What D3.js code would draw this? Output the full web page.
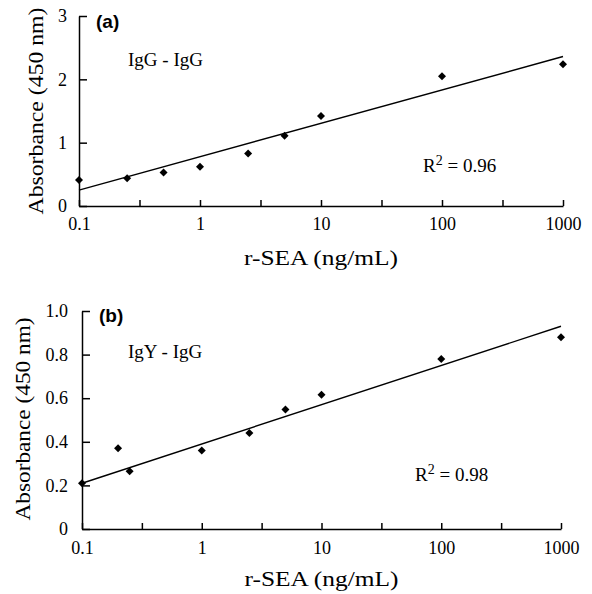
<!DOCTYPE html>
<html>
<head>
<meta charset="utf-8">
<script src="https://cdn.jsdelivr.net/npm/d3@7"></script>
</head>
<body style="margin:0;background:#fff">
<div id="chart"></div>
<script>
// Data
var concA = [0.1, 0.25, 0.5, 1, 2.5, 5, 10, 100, 1000];
var absA = [0.41, 0.44, 0.53, 0.62, 0.83, 1.11, 1.42, 2.05, 2.24];
var concB = [0.1, 0.2, 0.25, 1, 2.5, 5, 10, 100, 1000];
var absB = [0.21, 0.37, 0.265, 0.36, 0.44, 0.548, 0.616, 0.78, 0.88];

// fitted line, absorbance at the two ends of the x range
var fitX = [0.1, 1000];
var fitA = [0.25, 2.36];
var fitB = [0.21, 0.93];

// x ticks: decades are labelled, half decades are bare ticks
var xTicks = [0.1, 0.3162, 1, 3.162, 10, 31.62, 100, 316.2, 1000];
var xTickLabels = ["0.1", "1", "10", "100", "1000"];
var yTicksA = [0, 1, 2, 3];
var yTickLabelsA = ["0", "1", "2", "3"];
var yTicksB = [0, 0.2, 0.4, 0.6, 0.8, 1.0];
var yTickLabelsB = ["0", "0.2", "0.4", "0.6", "0.8", "1.0"];

var serif = "Liberation Serif, Times New Roman, serif";

var svg = d3.select("#chart").append("svg")
  .attr("width", 592)
  .attr("height", 594)
  .attr("font-family", serif)
  .style("background", "#fff");

function styleAxis(s) {
  s.attr("font-family", serif).attr("font-size", 18).attr("fill", "#000");
  s.select(".domain")
    .style("stroke", "#000")
    .style("stroke-width", "1.5px")
    .style("fill", "none");
  s.selectAll(".tick line")
    .style("stroke", "#000")
    .style("stroke-width", "1.5px");
  s.selectAll(".tick text")
    .style("fill", "#000")
    .style("font-family", serif)
    .style("font-size", "18px");
}

function drawPanel(p) {
  var x = d3.scaleLog().domain([0.1, 1000]).range([p.left, p.right]);
  var y = d3.scaleLinear().domain(p.yDomain).range([p.bottom, p.top]);

  // x axis, ticks pointing up into the plot
  svg.append("g")
    .attr("transform", "translate(0," + p.bottom + ")")
    .call(d3.axisBottom(x)
      .tickValues(xTicks)
      .tickSizeInner(-6)
      .tickSizeOuter(0)
      .tickPadding(p.xPad)
      .tickFormat(function(d) {
        var i = [0.1, 1, 10, 100, 1000].indexOf(d);
        return i < 0 ? "" : xTickLabels[i];
      }))
    .call(styleAxis);

  // y axis, ticks pointing right
  svg.append("g")
    .attr("transform", "translate(" + p.left + ",0)")
    .call(d3.axisLeft(y)
      .tickValues(p.yTicks)
      .tickSizeInner(-8)
      .tickSizeOuter(0)
      .tickPadding(p.yPad)
      .tickFormat(function(d, i) { return p.yLabels[i]; }))
    .call(styleAxis);

  // fitted line
  var fitLine = d3.line()
    .x(function(d) { return x(d[0]); })
    .y(function(d) { return y(d[1]); });

  svg.append("path")
    .datum(d3.zip(fitX, p.fit))
    .attr("d", fitLine)
    .style("fill", "none")
    .style("stroke", "#000")
    .style("stroke-width", "1.4px");

  // diamond markers
  svg.append("g").selectAll("path")
    .data(d3.zip(p.conc, p.abs))
    .enter().append("path")
    .attr("d", d3.symbol().type(d3.symbolSquare).size(32))
    .attr("transform", function(d) {
      return "translate(" + x(d[0]) + "," + y(d[1]) + ") rotate(45)";
    })
    .style("fill", "#000");

  // panel letter
  svg.append("text")
    .attr("x", p.left + 17)
    .attr("y", p.letterY)
    .style("font-family", "Liberation Sans, Arial, sans-serif")
    .style("font-weight", "bold")
    .style("font-size", "19px")
    .text(p.letter);

  // antibody pair
  svg.append("text")
    .attr("x", 128)
    .attr("y", p.pairY)
    .style("font-size", "19px")
    .text(p.pair);

  // R squared
  var r2 = svg.append("text")
    .attr("x", p.r2X)
    .attr("y", p.r2Y)
    .style("font-size", "19px");
  r2.append("tspan").text("R");
  r2.append("tspan").attr("dy", -7).style("font-size", "14px").text("2");
  r2.append("tspan").attr("dy", 7).text(" = " + p.r2);

  // axis titles
  svg.append("text")
    .attr("x", (p.left + p.right) / 2)
    .attr("y", p.xTitleY)
    .attr("text-anchor", "middle")
    .attr("textLength", 154)
    .attr("lengthAdjust", "spacingAndGlyphs")
    .style("font-size", "21px")
    .text("r-SEA (ng/mL)");

  svg.append("text")
    .attr("transform", "translate(" + p.yTitleX + "," + p.yTitleY + ") rotate(-90)")
    .attr("text-anchor", "middle")
    .attr("textLength", p.yTitleLen)
    .attr("lengthAdjust", "spacingAndGlyphs")
    .style("font-size", "21px")
    .text("Absorbance (450 nm)");
}

drawPanel({
  left: 79, right: 563, top: 16, bottom: 206,
  yDomain: [0, 3], yTicks: yTicksA, yLabels: yTickLabelsA,
  xPad: 11, yPad: 12,
  conc: concA, abs: absA, fit: fitA,
  letter: "(a)", letterY: 28,
  pair: "IgG - IgG", pairY: 66,
  r2: "0.96", r2X: 423, r2Y: 172,
  xTitleY: 265,
  yTitleX: 43, yTitleY: 111, yTitleLen: 207
});

drawPanel({
  left: 82, right: 561, top: 311, bottom: 529,
  yDomain: [0, 1], yTicks: yTicksB, yLabels: yTickLabelsB,
  xPad: 12, yPad: 14,
  conc: concB, abs: absB, fit: fitB,
  letter: "(b)", letterY: 322,
  pair: "IgY - IgG", pairY: 358,
  r2: "0.98", r2X: 415, r2Y: 481,
  xTitleY: 586,
  yTitleX: 30, yTitleY: 419, yTitleLen: 203
});
</script>
</body>
</html>
